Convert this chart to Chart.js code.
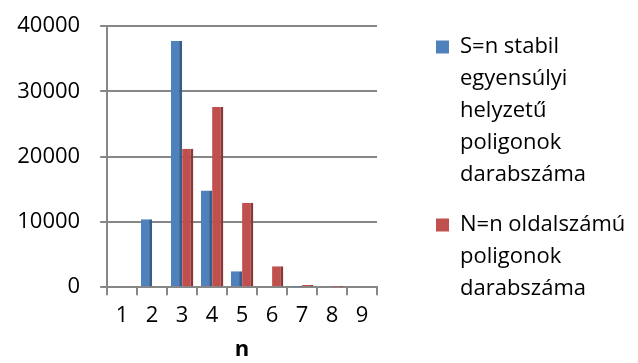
<!DOCTYPE html>
<html lang="hu">
<head>
<meta charset="UTF-8">
<title>Poligonok darabszáma</title>
<script src="https://cdn.jsdelivr.net/npm/chart.js"></script>
<style>
  html, body { margin: 0; padding: 0; background: #fff; }
  #wrap { width: 638px; height: 363px; }
</style>
</head>
<body>
<div id="wrap"><canvas id="chart" width="638" height="363"></canvas></div>
<script>
// data
const categories = ['1', '2', '3', '4', '5', '6', '7', '8', '9'];
const stableCounts = [0, 10400, 37700, 14800, 2450, 150, 20, 0, 0];
const sideCounts = [0, 0, 21200, 27600, 12950, 3220, 350, 10, 0];
const seriesLabels = [
   ['S=n stabil', 'egyensúlyi', 'helyzetű', 'poligonok', 'darabszáma'],
   ['N=n oldalszámú', 'poligonok', 'darabszáma']
];
const yTicks = [0, 10000, 20000, 30000, 40000];

const gray = '#878787';
const fontFamily = "'Open Sans', 'DejaVu Sans', sans-serif";

Chart.defaults.font.family = fontFamily;
Chart.defaults.color = '#000';

// the legend measures wrapped labels too narrow, so give it a fixed width
const legendWidth = {
   id: 'legendWidth',
   beforeLayout(chart) {
      const lg = chart.legend;
      if (lg && !lg._fixedWidth) {
         const fit = lg.fit.bind(lg);
         lg.fit = function () {
            fit();
            this.width = 220;
         };
         lg._fixedWidth = true;
      }
   }
};

const ctx = document.getElementById('chart').getContext('2d');
new Chart(ctx, {
   type: 'bar',
   data: {
      labels: categories,
      datasets: [{
         label: seriesLabels[0].join(' '),
         data: stableCounts,
         backgroundColor: '#4F81BD',
         borderColor: '#385D8A',
         borderWidth: { top: 0, right: 3, bottom: 0, left: 0 },
         borderSkipped: false
      }, {
         label: seriesLabels[1].join(' '),
         data: sideCounts,
         backgroundColor: '#C0504D',
         borderColor: '#8C3836',
         borderWidth: { top: 0, right: 3, bottom: 0, left: 0 },
         borderSkipped: false
      }]
   },
   options: {
      responsive: false,
      animation: false,
      layout: { padding: { left: 1, right: 0, top: 0, bottom: 0 } },
      datasets: {
         bar: { categoryPercentage: 0.75, barPercentage: 1.0 }
      },
      scales: {
         x: {
            grid: { drawOnChartArea: false, color: gray, lineWidth: 2, tickLength: 8 },
            border: { color: gray, width: 2 },
            ticks: { font: { size: 22 }, padding: 7 },
            title: {
               display: true,
               text: 'n',
               font: { size: 22, weight: 'bold' },
               padding: { top: 1, bottom: 0 }
            }
         },
         y: {
            min: 0,
            max: 40000,
            afterBuildTicks: (axis) => { axis.ticks = yTicks.map(v => ({ value: v })); },
            grid: { color: gray, lineWidth: 2, tickLength: 7 },
            border: { color: gray, width: 2 },
            // small lineHeight keeps the top label from pushing the plot down
            ticks: { font: { size: 22, lineHeight: 0.55 }, padding: 20, callback: (v) => String(v) }
         },
         // empty axis that only keeps a gap between the plot and the legend
         gap: {
            position: 'right',
            display: true,
            grid: { display: false },
            border: { display: false },
            ticks: { display: false },
            afterFit: (axis) => { axis.width = 41; }
         }
      },
      plugins: {
         tooltip: { enabled: false },
         legend: {
            position: 'right',
            align: 'start',
            title: { display: true, text: '', font: { size: 1, lineHeight: 1 }, padding: { top: 17, bottom: 0 } },
            labels: {
               boxWidth: 13,
               boxHeight: 13,
               padding: 18,
               font: { size: 22, lineHeight: 32 / 22 },
               generateLabels: (chart) => chart.data.datasets.map((ds, i) => ({
                  text: seriesLabels[i],
                  fillStyle: ds.backgroundColor,
                  strokeStyle: ds.backgroundColor,
                  lineWidth: 0,
                  datasetIndex: i
               }))
            }
         }
      }
   },
   plugins: [legendWidth]
});
</script>
</body>
</html>
